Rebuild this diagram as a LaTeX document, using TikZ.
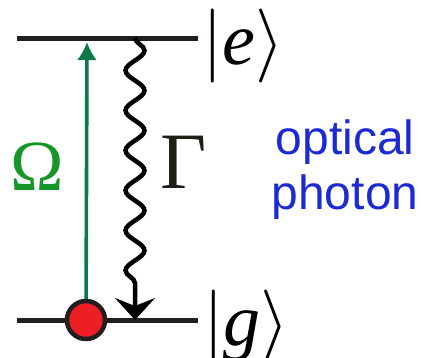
\RequirePackage{fix-cm}
\documentclass[tikz,border=0pt]{standalone}
\usepackage{fontspec}
\setmainfont{Liberation Serif}
\newfontfamily\labelsans{Liberation Sans}
\usepackage{tikz}
\usetikzlibrary{arrows.meta,decorations.pathmorphing}

\definecolor{levelcol}{RGB}{35,31,32}
\definecolor{pumpgreen}{RGB}{12,122,72}
\definecolor{omegagreen}{RGB}{22,150,40}
\definecolor{gammacol}{RGB}{30,30,25}
\definecolor{photonblue}{RGB}{28,42,212}
\definecolor{atomred}{RGB}{237,30,36}

\begin{document}
\begin{tikzpicture}[
  x=1pt,y=-1pt,
  level/.style={draw=levelcol,line width=5pt},
  atom/.style={circle,draw=levelcol,line width=4.5pt,fill=atomred,minimum size=38pt,inner sep=0pt},
  pump/.style={draw=pumpgreen,line width=3.6pt,-{Latex[length=18pt,width=20pt]}},
  decay/.style={draw=black,line width=4.5pt,decorate,decoration={snake,amplitude=9.5pt,segment length=40pt,post length=26pt},-{Stealth[length=22pt,width=40pt,inset=8pt]}},
  ket/.style={inner sep=0pt,anchor=base west,font=\fontsize{74}{74}\selectfont},
  rate/.style={inner sep=0pt,anchor=base}
]
\useasboundingbox (0,0) rectangle (422,357);

\coordinate (eleft) at (17,38);
\coordinate (eright) at (198,38);
\coordinate (gleft) at (17,320);
\coordinate (gright) at (198,320);
\draw[level] (eleft) -- (eright);
\draw[level] (gleft) -- (gright);

\node[ket] (ketE) at (202,64) {$|$\textit{e}$\rangle$};
\node[ket] (ketG) at (203,345) {$|$\textit{g}$\rangle$};

\coordinate (pumptip) at (87,42);
\coordinate (decaytop) at (135,38);
\coordinate (decayend) at (135,320);

\node[atom] (atom) at (86,320) {};
\draw[pump] (atom) -- (pumptip);
\draw[decay] (decaytop) -- (decayend);

\node[rate,text=omegagreen,font=\fontsize{72}{72}\selectfont] (omega) at (37,190) {Ω};
\node[rate,text=gammacol,font=\fontsize{80}{80}\selectfont] (gamma) at (184,188) {Γ};
\node[inner sep=0pt,align=center,text=photonblue,font=\labelsans\fontsize{48}{55}\selectfont] (photon) at (345,170) {optical\\photon};
\end{tikzpicture}
\end{document}
